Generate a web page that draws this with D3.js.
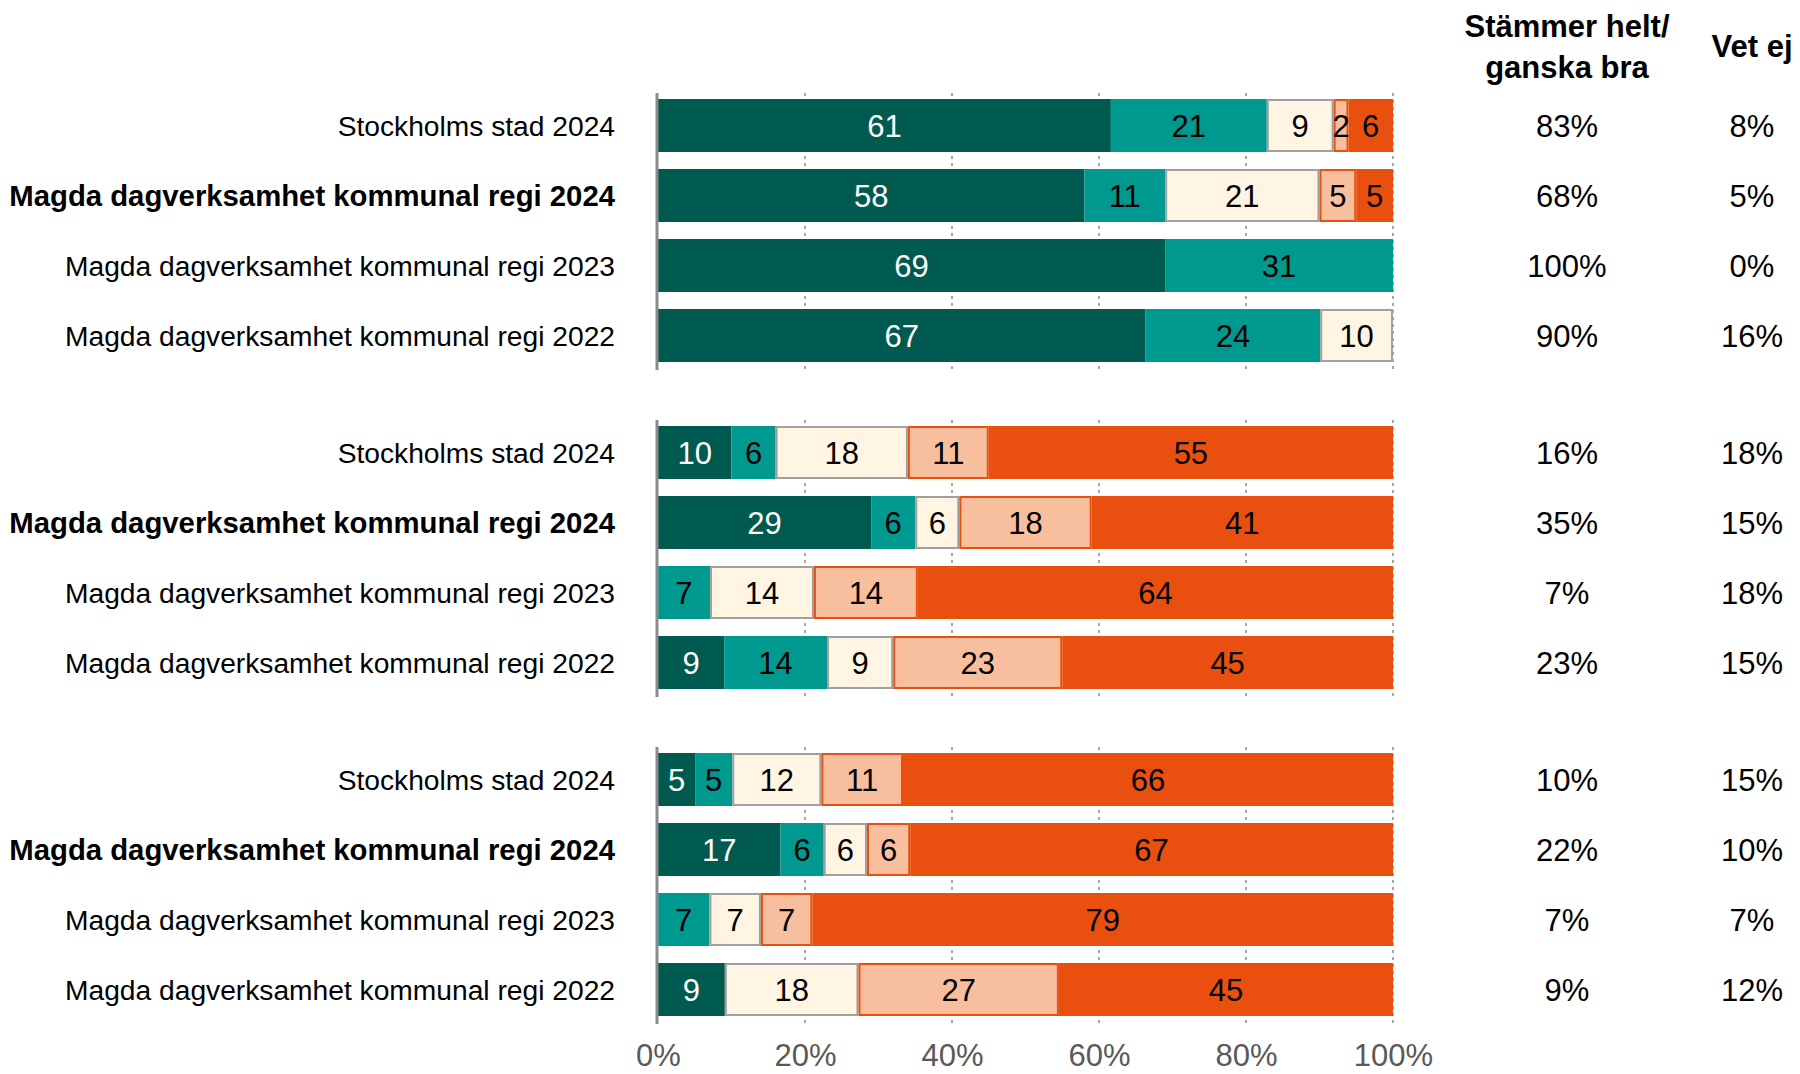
<!DOCTYPE html>
<html>
<head>
<meta charset="utf-8">
<script src="https://cdn.jsdelivr.net/npm/d3@7"></script>
<style>
  body { margin: 0; background: #fff; }
  svg { display: block; font-family: "Liberation Sans", Arial, sans-serif; }
</style>
</head>
<body>
<svg id="chart" width="1800" height="1074"></svg>
<script>
// categories, one list per panel (same for all three)
const rowLabels = [
  'Stockholms stad 2024',
  'Magda dagverksamhet kommunal regi 2024',
  'Magda dagverksamhet kommunal regi 2023',
  'Magda dagverksamhet kommunal regi 2022'
];
const boldRow = 1;

// segments: dark green, teal, cream, salmon, orange
const panel1 = [[61, 21, 9, 2, 6], [58, 11, 21, 5, 5], [69, 31, 0, 0, 0], [67, 24, 10, 0, 0]];
const panel2 = [[10, 6, 18, 11, 55], [29, 6, 6, 18, 41], [0, 7, 14, 14, 64], [9, 14, 9, 23, 45]];
const panel3 = [[5, 5, 12, 11, 66], [17, 6, 6, 6, 67], [0, 7, 7, 7, 79], [9, 0, 18, 27, 45]];

const agreeCol = [['83%', '68%', '100%', '90%'], ['16%', '35%', '7%', '23%'], ['10%', '22%', '7%', '9%']];
const dontKnowCol = [['8%', '5%', '0%', '16%'], ['18%', '15%', '18%', '15%'], ['15%', '10%', '7%', '12%']];

const xTicks = [0, 20, 40, 60, 80, 100];

const fills = ['#005a4f', '#009990', '#fff5e2', '#f8bf9f', '#e9500f'];
const strokes = [null, null, '#a0a0a0', '#e9500f', null];
const labelColors = ['#ffffff', '#000000', '#000000', '#000000', '#000000'];

const panels = [panel1, panel2, panel3];

const svg = d3.select('#chart');

const xScale = d3.scaleLinear().domain([0, 100]).range([658, 1393]);
const groupScale = d3.scaleBand().domain([0, 1, 2]).range([99, 1016]).paddingInner(64 / 327);
const rowScale = d3.scaleBand().domain([0, 1, 2, 3]).range([0, groupScale.bandwidth()]).paddingInner(17 / 70);

// headers
const header = svg.append('g').attr('font-weight', 'bold').attr('font-size', 31).attr('text-anchor', 'middle');
header.append('text').attr('x', 1567).attr('y', 37).text('Stämmer helt/');
header.append('text').attr('x', 1567).attr('y', 78).text('ganska bra');
header.append('text').attr('x', 1752).attr('y', 57).text('Vet ej');

panels.forEach((rows, gi) => {
  const g = svg.append('g').attr('transform', `translate(0, ${groupScale(gi)})`);
  const top = -6;
  const bottom = groupScale.bandwidth() + 8;

  // dotted grid lines
  g.append('g').selectAll('line').data(xTicks.slice(1)).enter().append('line')
    .attr('x1', d => xScale(d)).attr('x2', d => xScale(d))
    .attr('y1', top).attr('y2', bottom)
    .attr('stroke', '#a6a6a6').attr('stroke-width', 2).attr('stroke-dasharray', '3,4');

  rows.forEach((vals, ri) => {
    const total = d3.sum(vals);
    let acc = 0;
    const segs = vals.map((v, i) => {
      const s = { v: v, i: i, x0: acc / total * 100, x1: (acc + v) / total * 100 };
      acc += v;
      return s;
    }).filter(s => s.v > 0);

    const y = rowScale(ri);
    const h = rowScale.bandwidth();
    const row = g.append('g').attr('transform', `translate(0, ${y})`);

    row.selectAll('rect').data(segs).enter().append('rect')
      .attr('x', d => xScale(d.x0) + (strokes[d.i] ? 1 : 0))
      .attr('y', d => strokes[d.i] ? 1 : 0)
      .attr('width', d => xScale(d.x1) - xScale(d.x0) - (strokes[d.i] ? 2 : 0))
      .attr('height', d => h - (strokes[d.i] ? 2 : 0))
      .attr('fill', d => fills[d.i])
      .attr('stroke', d => strokes[d.i] || 'none')
      .attr('stroke-width', 2);

    row.selectAll('text').data(segs).enter().append('text')
      .attr('x', d => (xScale(d.x0) + xScale(d.x1)) / 2)
      .attr('y', h / 2)
      .attr('dy', '0.36em')
      .attr('text-anchor', 'middle')
      .attr('font-size', 31)
      .attr('fill', d => labelColors[d.i])
      .text(d => d.v);

    // row label
    g.append('text')
      .attr('x', 615).attr('y', y + h / 2).attr('dy', '0.36em')
      .attr('text-anchor', 'end')
      .attr('font-size', ri == boldRow ? 29.3 : 28.2)
      .attr('font-weight', ri == boldRow ? 'bold' : 'normal')
      .text(rowLabels[ri]);

    g.append('text')
      .attr('x', 1567).attr('y', y + h / 2).attr('dy', '0.36em')
      .attr('text-anchor', 'middle').attr('font-size', 31)
      .text(agreeCol[gi][ri]);
    g.append('text')
      .attr('x', 1752).attr('y', y + h / 2).attr('dy', '0.36em')
      .attr('text-anchor', 'middle').attr('font-size', 31)
      .text(dontKnowCol[gi][ri]);
  });

  // axis line at 0%
  g.append('line')
    .attr('x1', xScale(0) - 1).attr('x2', xScale(0) - 1)
    .attr('y1', top).attr('y2', bottom)
    .attr('stroke', '#8c8c8c').attr('stroke-width', 3);
});

// x axis tick labels
const xAxis = d3.axisBottom(xScale).tickValues(xTicks).tickFormat(d => d + '%').tickSize(0);
const xAxisGroup = svg.append('g').attr('transform', 'translate(0, 1041)').call(xAxis);
xAxisGroup.select('.domain').remove();
xAxisGroup.selectAll('text')
  .attr('font-size', 31)
  .attr('font-family', '"Liberation Sans", Arial, sans-serif')
  .attr('fill', '#595959');
</script>
</body>
</html>
